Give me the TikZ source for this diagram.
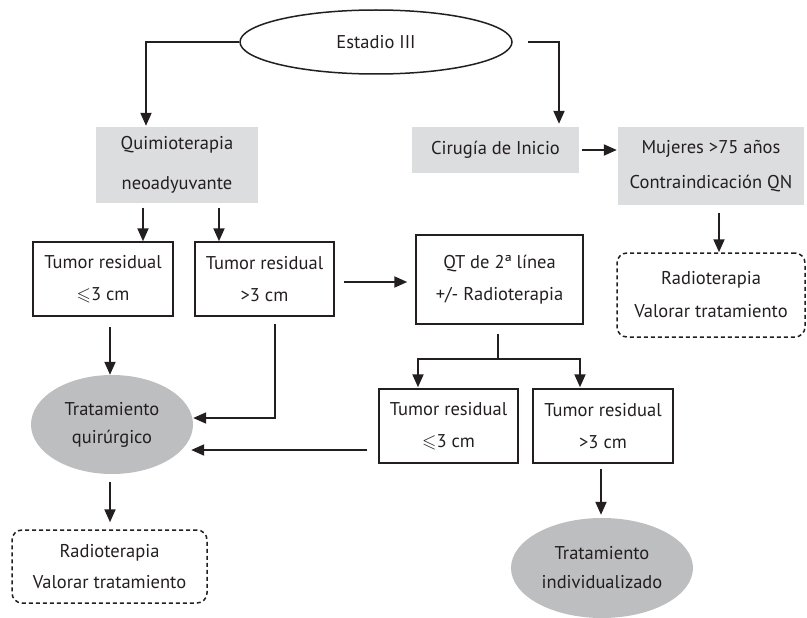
\documentclass[tikz,border=0pt]{standalone}
\usepackage{fontspec}
\usepackage{amssymb}
\setmainfont{PT Sans}
\usetikzlibrary{shapes.geometric,arrows.meta,calc}
\definecolor{boxgray}{HTML}{DCDDDF}
\definecolor{ellgray}{HTML}{BDBEC0}
\definecolor{ink}{HTML}{231F20}
\begin{document}
\begin{tikzpicture}[x=1pt,y=-1pt,
  every node/.style={font=\fontsize{18.5}{32}\selectfont, text=ink, align=center, inner sep=0pt},
  gbox/.style={rectangle, fill=boxgray},
  wbox/.style={rectangle, draw=ink, line width=1.5pt},
  dbox/.style={rectangle, draw=ink, line width=1.5pt, dash pattern=on 4pt off 3pt, rounded corners=10pt},
  gell/.style={ellipse, fill=ellgray},
  oell/.style={ellipse, draw=ink, line width=1.5pt},
  arr/.style={draw=ink, line width=2pt, -{Triangle[length=13pt,width=11pt]}}
]
\useasboundingbox (0,0) rectangle (807,618);

% nodes
\node[oell, minimum width=272pt, minimum height=64pt] (est) at (376,42) {Estadio III};
\node[gbox, minimum width=162pt, minimum height=75pt, font=\fontsize{18.5}{40}\selectfont] (qui) at (177,165) {Quimioterapia\\neoadyuvante};
\node[gbox, minimum width=167pt, minimum height=46pt] (cir) at (495.5,150) {Cirugía de Inicio};
\node[gbox, minimum width=186pt, minimum height=78pt, font=\fontsize{18.5}{35}\selectfont] (muj) at (711,166) {Mujeres >75 años\\Contraindicación QN};
\node[wbox, minimum width=140pt, minimum height=74pt] (tr1) at (103,279) {Tumor residual\\$\leqslant$3 cm};
\node[wbox, minimum width=139pt, minimum height=74pt] (tr2) at (264.5,279) {Tumor residual\\>3 cm};
\node[wbox, minimum width=167pt, minimum height=89pt] (qt) at (499.5,279.5) {QT de 2ª línea\\+/- Radioterapia};
\node[dbox, minimum width=188pt, minimum height=84pt, font=\fontsize{18.5}{33}\selectfont] (mdash) at (711,295) {Radioterapia\\Valorar tratamiento};
\node[wbox, minimum width=139pt, minimum height=74pt] (tr3) at (448.5,426) {Tumor residual\\$\leqslant$3 cm};
\node[wbox, minimum width=140pt, minimum height=74pt] (tr4) at (603,426) {Tumor residual\\>3 cm};
\node[gell, minimum width=162pt, minimum height=99pt, font=\fontsize{18.5}{28}\selectfont] (quir) at (112,424.5) {Tratamiento\\quirúrgico};
\node[gell, minimum width=182pt, minimum height=100pt, font=\fontsize{18.5}{29}\selectfont] (indiv) at (602,568) {Tratamiento\\individualizado};
\node[dbox, minimum width=195pt, minimum height=73pt, font=\fontsize{18.5}{31}\selectfont] (ldash) at (109.5,566.5) {Radioterapia\\Valorar tratamiento};

% connectors
\draw[arr, shorten >=1.5pt] (est.west) -| ([xshift=-31pt]qui.north);
\draw[arr, shorten >=3pt] ([xshift=15pt]est.east) -| ([xshift=63.5pt]cir.north);
\draw[arr, shorten <=3pt, shorten >=1pt] (cir.east) -- (cir.east -| muj.west);
\draw[arr, shorten <=5pt] ([xshift=40pt]tr1.north |- qui.south) -- ([xshift=40pt]tr1.north);
\draw[arr, shorten <=5pt] ([xshift=-45.5pt]tr2.north |- qui.south) -- ([xshift=-45.5pt]tr2.north);
\draw[arr, shorten <=9pt, shorten >=8pt] ([yshift=-3pt]tr2.east) -- ([yshift=-3pt]tr2.east -| qt.west);
\coordinate (qtsplit) at ($(qt.south)+(-1.5,34)$);
\draw[arr, shorten >=1pt] ([xshift=-1.5pt,yshift=-9pt]qt.south) -- (qtsplit) -| ([xshift=-30.5pt]tr3.north);
\draw[arr, shorten >=1pt] (qtsplit) -| ([xshift=-23pt]tr4.north);
\draw[arr, shorten <=5pt, shorten >=3pt] ([xshift=-2pt]tr4.south) -- ([xshift=-2pt]tr4.south |- indiv.north);
\draw[arr, shorten <=8pt] ([xshift=8pt]muj.south) -- ([xshift=8pt]muj.south |- mdash.north);
\draw[arr, shorten <=10pt] ([xshift=7pt]tr1.south) -- ([xshift=7pt]tr1.south |- quir.north);
\draw[arr, shorten <=7pt] ([xshift=10.5pt]tr2.south) |- ([yshift=6.5pt]quir.east);
\draw[arr, shorten <=11pt] ([yshift=-24pt]tr3.west) -- ([xshift=-2pt,yshift=-25.5pt]quir.east);
\draw[arr, shorten <=8pt, shorten >=7pt] ([xshift=-2pt]quir.south) -- ([xshift=-2pt]quir.south |- ldash.north);
\end{tikzpicture}
\end{document}
